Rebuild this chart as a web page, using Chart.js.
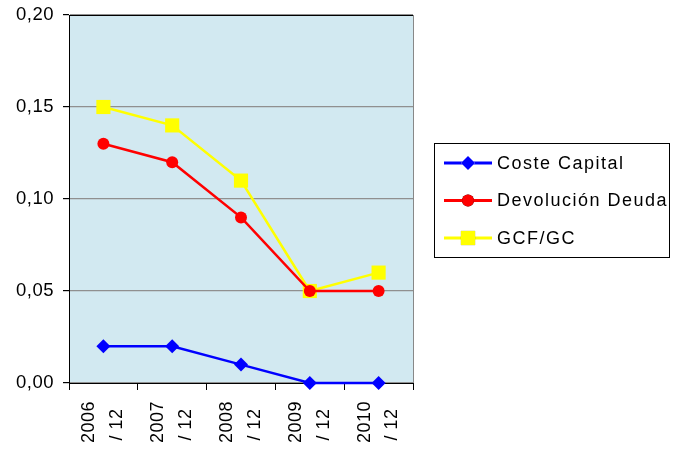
<!DOCTYPE html>
<html>
<head>
<meta charset="utf-8">
<script src="https://cdn.jsdelivr.net/npm/chart.js@4"></script>
<style>
    body { margin: 0; background: #fff; }
    #wrap { width: 675px; height: 451px; }
</style>
</head>
<body>
<div id="wrap"><canvas id="chart" width="675" height="451"></canvas></div>
<script>
// second line gets a little trailing room so both lines sit centred like the original
const categories = [
    ['2006', '/ 12 \u200A'],
    ['2007', '/ 12 \u200A'],
    ['2008', '/ 12 \u200A'],
    ['2009', '/ 12 \u200A'],
    ['2010', '/ 12 \u200A']
];
const costeCapital = [0.02, 0.02, 0.01, 0.00, 0.00];
const devolucionDeuda = [0.13, 0.12, 0.09, 0.05, 0.05];
const gcfGc = [0.15, 0.14, 0.11, 0.05, 0.06];
const seriesNames = ['Coste Capital', 'Devolución Deuda', 'GCF/GC'];

const FONT = "'Liberation Sans', Arial, sans-serif";
const SPACING = '0.5px';

const canvas = document.getElementById('chart');

// the old office renderer spaces its glyphs a bit wider;
// canvas resizes wipe ctx state so set it again each pass
const wideText = {
    id: 'wideText',
    beforeUpdate(chart) { chart.ctx.letterSpacing = SPACING; },
    beforeLayout(chart) { chart.ctx.letterSpacing = SPACING; },
    beforeDraw(chart) { chart.ctx.letterSpacing = SPACING; }
};

// plot background + border
const plotBg = {
    id: 'plotBg',
    beforeDraw(chart) {
        const { ctx, chartArea: a } = chart;
        ctx.save();
        ctx.fillStyle = '#d2e9f1';
        ctx.fillRect(a.left, a.top, a.right - a.left, a.bottom - a.top);
        ctx.restore();
    },
    beforeDatasetsDraw(chart) {
        const { ctx, chartArea: a } = chart;
        ctx.save();
        ctx.strokeStyle = '#888';
        ctx.lineWidth = 1;
        ctx.beginPath();
        ctx.moveTo(a.right + 0.5, a.top);
        ctx.lineTo(a.right + 0.5, a.bottom);
        ctx.stroke();
        ctx.strokeStyle = '#000';
        ctx.beginPath();
        ctx.moveTo(a.left, a.top + 0.5);
        ctx.lineTo(a.right, a.top + 0.5);
        ctx.stroke();
        ctx.restore();
    }
};

// legend drawn like the old office style: line sample with marker
const boxLegend = {
    id: 'boxLegend',
    afterDraw(chart) {
        const { ctx } = chart;
        const x0 = 434, y0 = 143, w = 235, h = 114;
        ctx.save();
        ctx.fillStyle = '#fff';
        ctx.fillRect(x0, y0, w, h);
        ctx.strokeStyle = '#000';
        ctx.lineWidth = 1;
        ctx.strokeRect(x0 + 0.5, y0 + 0.5, w, h);
        chart.data.datasets.forEach((ds, i) => {
            const y = 163 + i * 37.5;
            ctx.strokeStyle = ds.borderColor;
            ctx.lineWidth = 3;
            ctx.beginPath();
            ctx.moveTo(444, y);
            ctx.lineTo(492, y);
            ctx.stroke();
            Chart.helpers.drawPoint(ctx, {
                pointStyle: ds.pointStyle,
                radius: ds.pointRadius,
                borderWidth: 0
            }, 468, y);
            ctx.fillStyle = ds.pointBackgroundColor;
            ctx.fill();
            ctx.fillStyle = '#000';
            ctx.font = '18px ' + FONT;
            ctx.letterSpacing = '1.5px';
            ctx.textBaseline = 'middle';
            ctx.fillText(ds.label, 497, y + 1);
        });
        ctx.restore();
    }
};

new Chart(canvas, {
    type: 'line',
    data: {
        labels: categories,
        datasets: [
            {
                label: seriesNames[0],
                data: costeCapital,
                borderColor: '#0000ff',
                backgroundColor: '#0000ff',
                pointBackgroundColor: '#0000ff',
                pointBorderColor: '#0000ff',
                pointStyle: 'rectRot',
                pointRadius: 7,
                borderWidth: 2.5,
                pointBorderWidth: 0,
                clip: false
            },
            {
                label: seriesNames[1],
                data: devolucionDeuda,
                borderColor: '#ff0000',
                backgroundColor: '#ff0000',
                pointBackgroundColor: '#ff0000',
                pointBorderColor: '#ff0000',
                pointStyle: 'circle',
                pointRadius: 6,
                borderWidth: 2.5,
                pointBorderWidth: 0,
                clip: false
            },
            {
                label: seriesNames[2],
                data: gcfGc,
                borderColor: '#ffff00',
                backgroundColor: '#ffff00',
                pointBackgroundColor: '#ffff00',
                pointBorderColor: '#ffff00',
                pointStyle: 'rect',
                pointRadius: 10,
                borderWidth: 2.5,
                pointBorderWidth: 0,
                clip: false
            }
        ]
    },
    options: {
        responsive: false,
        animation: false,
        layout: { padding: { top: 15, right: 262, left: 0, bottom: 0 } },
        plugins: {
            legend: { display: false },
            tooltip: { enabled: false }
        },
        scales: {
            x: {
                offset: true,
                grid: { offset: true, drawOnChartArea: false, tickLength: 7, tickColor: '#000' },
                border: { color: '#000', width: 1 },
                afterFit: s => { s.height = 68; s.paddingLeft = 0; s.paddingRight = 0; },
                ticks: {
                    color: '#000',
                    font: { family: FONT, size: 18, lineHeight: 1.55 },
                    maxRotation: 90,
                    minRotation: 90,
                    padding: 11,
                    labelOffset: -14,
                    autoSkip: false
                }
            },
            y: {
                min: 0,
                max: 0.2,
                grid: { color: '#909090', lineWidth: 1.2, tickLength: 6, tickColor: '#000' },
                border: { color: '#000', width: 1 },
                afterFit: s => { s.width = 69; s.paddingTop = 0; s.paddingBottom = 0; },
                ticks: {
                    stepSize: 0.05,
                    color: '#000',
                    font: { family: FONT, size: 18.5 },
                    padding: 9,
                    callback: v => v.toFixed(2).replace('.', ',')
                }
            }
        }
    },
    plugins: [wideText, plotBg, boxLegend]
});
</script>
</body>
</html>
